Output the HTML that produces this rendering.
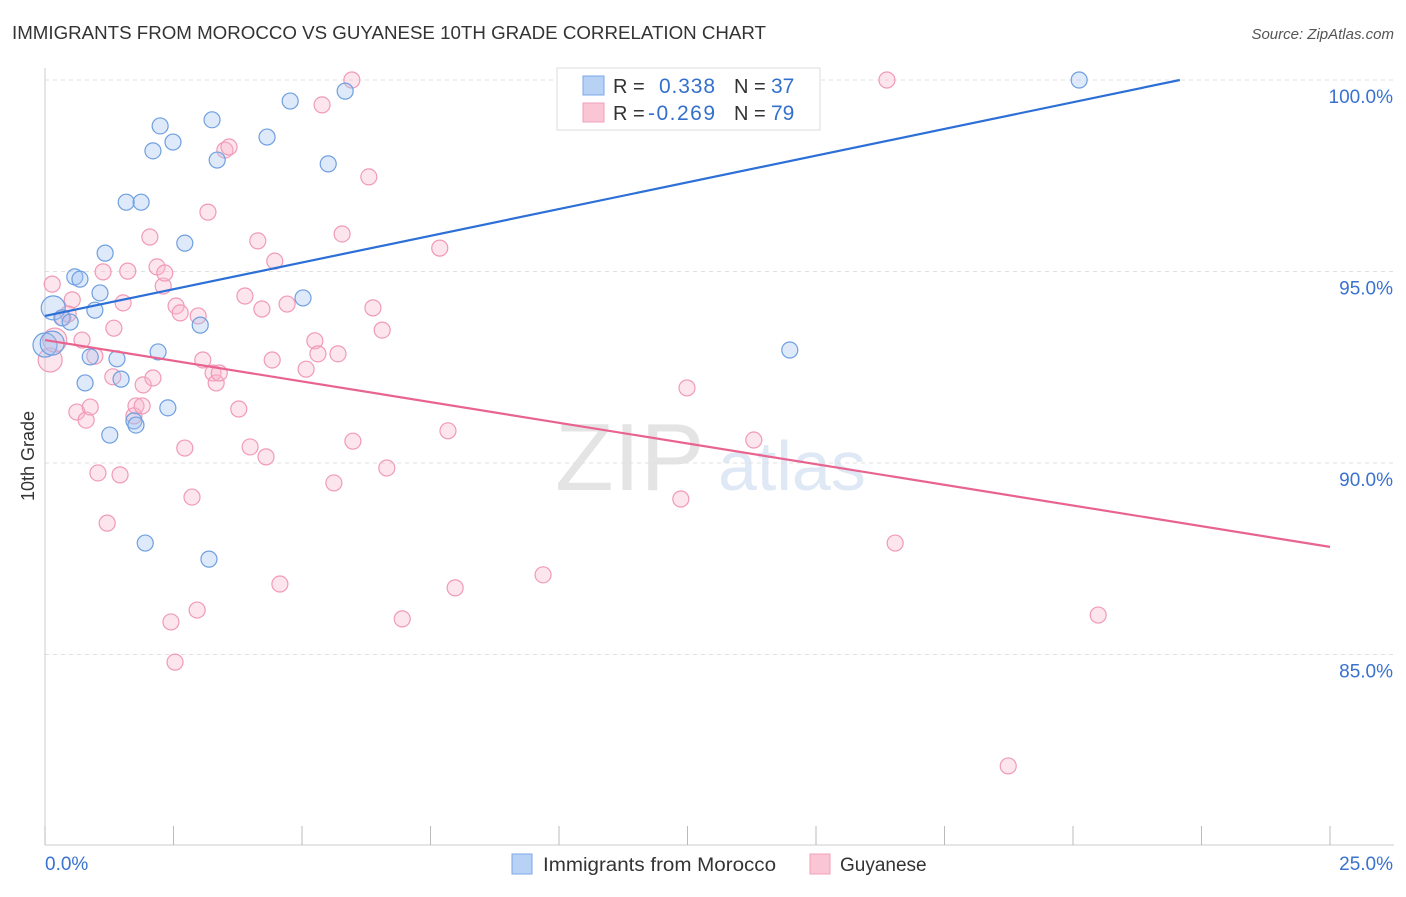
<!DOCTYPE html>
<html><head><meta charset="utf-8"><style>
body{margin:0;background:#fff;font-family:"Liberation Sans",sans-serif;}
svg text{font-family:"Liberation Sans",sans-serif;}
</style></head><body>
<svg id="chart" width="1406" height="892" xmlns="http://www.w3.org/2000/svg">
<text x="12" y="39" font-size="18" fill="#333" textLength="754" lengthAdjust="spacingAndGlyphs">IMMIGRANTS FROM MOROCCO VS GUYANESE 10TH GRADE CORRELATION CHART</text>
<text x="1394" y="39" font-size="15" fill="#555" font-style="italic" text-anchor="end">Source: ZipAtlas.com</text>
<text x="555" y="490" font-size="96" fill="#e4e4e4" font-family="Liberation Serif">ZIP</text>
<text x="718" y="490" font-size="70" fill="#dfe8f5">atlas</text>
<g id="grid"></g><g id="axes"></g><g id="marks"></g>
<text x="34" y="456" font-size="18" fill="#333" transform="rotate(-90 34 456)" text-anchor="middle">10th Grade</text>
<g>
<rect x="557" y="68" width="263" height="62" fill="#fff" stroke="#ddd"/>
<rect x="583" y="76" width="21" height="19" fill="#b8d2f5" stroke="#7aa8e8"/>
<rect x="583" y="103" width="21" height="19" fill="#fac6d6" stroke="#f0a0b8"/>
<text x="613" y="93" font-size="20" fill="#333">R =</text><text x="659" y="93" font-size="21" fill="#3370cc" textLength="56">0.338</text>
<text x="734" y="93" font-size="20" fill="#333">N =</text><text x="771" y="93" font-size="21" fill="#3370cc">37</text>
<text x="613" y="120" font-size="20" fill="#333">R =</text><text x="648" y="120" font-size="21" fill="#3370cc" textLength="67">-0.269</text>
<text x="734" y="120" font-size="20" fill="#333">N =</text><text x="771" y="120" font-size="21" fill="#3370cc">79</text>
</g>
<g>
<rect x="512" y="854" width="20" height="20" fill="#b8d2f5" stroke="#7aa8e8"/>
<text x="543" y="871" font-size="19" fill="#333" textLength="233" lengthAdjust="spacingAndGlyphs">Immigrants from Morocco</text>
<rect x="810" y="854" width="20" height="20" fill="#fac6d6" stroke="#f0a0b8"/>
<text x="840" y="871" font-size="19" fill="#333">Guyanese</text>
</g>
</svg>
<script>
const xTicks=[0,2.5,5,7.5,10,12.5,15,17.5,20,22.5,25];
const yTicks=[100,95,90,85];
const yTickLabels=["100.0%","95.0%","90.0%","85.0%"];
const xEndLabels=["0.0%","25.0%"];
const blueX=[0.16,0.33,0.49,0.58,0.68,0.97,1.07,1.17,0.88,0.78,1.26,1.40,1.48,1.58,1.87,1.73,1.77,2.10,2.24,2.49,2.20,2.39,1.95,2.72,3.02,3.25,3.35,3.19,4.32,4.77,5.02,5.51,5.84,14.49,20.12,0,0.14];
const blueY=[94.05,93.79,93.68,94.86,94.80,93.99,94.44,95.48,92.77,92.09,90.73,92.72,92.19,96.81,96.81,91.10,90.99,98.15,98.80,98.38,92.90,91.44,87.91,95.74,93.60,98.96,97.91,87.49,98.51,99.45,94.31,97.81,99.71,92.95,100.0,93.08,93.13];
const pinkX=[0.10,0.14,0.19,0.35,0.53,0.45,0.62,0.72,0.80,0.88,0.97,1.03,1.13,1.21,1.34,1.32,1.46,1.52,1.61,1.73,1.77,1.89,1.91,2.04,2.10,2.18,2.30,2.33,2.55,2.63,2.72,2.86,2.45,2.53,2.96,2.98,3.07,3.17,3.27,3.33,3.39,3.50,3.58,3.77,3.89,3.99,4.14,4.22,4.30,4.42,4.47,4.57,4.71,5.08,5.25,5.31,5.39,5.62,5.70,5.78,5.97,5.99,6.30,6.38,6.56,6.65,6.95,7.68,7.84,7.98,9.69,12.37,12.49,13.79,16.38,16.54,18.74,20.49];
const pinkY=[92.69,94.67,93.21,93.79,94.26,93.89,91.33,93.21,91.12,91.46,92.79,89.74,94.99,88.43,93.52,92.25,89.69,94.18,95.01,91.23,91.49,91.49,92.04,95.90,92.22,95.12,94.62,94.96,94.10,93.92,90.39,89.11,85.85,84.80,86.16,93.84,92.69,96.55,92.35,92.09,92.35,98.17,98.25,91.41,94.36,90.42,95.80,94.02,90.16,92.69,95.27,86.84,94.15,92.45,93.19,92.85,99.35,89.48,92.85,95.98,100.0,90.57,97.47,94.05,93.47,89.87,85.93,95.61,90.84,86.74,87.08,89.06,91.96,90.60,100.0,87.91,82.09,86.03];
const blueTrend=[93.84,0.279];
const pinkTrend=[93.21,-0.216];
const NS="http://www.w3.org/2000/svg";
function sx(v){return 45+v*51.4;}
function sy(v){return 80+(100-v)*38.3;}
function mk(t,a,p){const e=document.createElementNS(NS,t);for(const k in a)e.setAttribute(k,a[k]);p.appendChild(e);return e;}
const grid=document.getElementById('grid'),axes=document.getElementById('axes'),marks=document.getElementById('marks');
yTicks.forEach((v,i)=>{
  const l=mk('line',{x1:45,x2:1394,y1:sy(v),y2:sy(v),stroke:'#e0e0e0','stroke-dasharray':'4,4'},grid);
  
  
  const t=mk('text',{x:1393,y:sy(v)+23,'font-size':19,fill:'#3a72d0','text-anchor':'end'},axes);
  t.textContent=yTickLabels[i];
  
  
});
const ax=mk('line',{x1:45,x2:1394,y1:845,y2:845,stroke:'#ccc'},axes);


const ay=mk('line',{x1:45,x2:45,y1:68,y2:845,stroke:'#ccc'},axes);


xTicks.forEach(v=>{
  const t=mk('line',{x1:sx(v),x2:sx(v),y1:826,y2:845,stroke:'#bbb'},axes);
  
  
});
const xl0=mk('text',{x:45,y:870,'font-size':19,fill:'#3a72d0'},axes);xl0.textContent=xEndLabels[0];


const xl1=mk('text',{x:1393,y:870,'font-size':19,fill:'#3a72d0','text-anchor':'end'},axes);xl1.textContent=xEndLabels[1];


function dots(X,Y,fill,stroke,name){
  X.forEach((x,i)=>{
    const big=(x<0.2&&(Math.abs(Y[i]-93)<0.5||Math.abs(Y[i]-94.05)<0.1||Math.abs(Y[i]-92.69)<0.1));
    const c=mk('circle',{cx:sx(x),cy:sy(Y[i]),r:big?12:8,fill:fill,stroke:stroke,'stroke-width':1.2},marks);
    
    
  });
}
dots(pinkX,pinkY,'rgba(248,180,204,0.35)','#f09ab6','guyanese-point');
dots(blueX,blueY,'rgba(160,195,240,0.35)','#6f9fe0','morocco-point');
const bEnd=(100-blueTrend[0])/blueTrend[1];
const bl=mk('line',{x1:sx(0),y1:sy(blueTrend[0]),x2:sx(bEnd),y2:sy(100),stroke:'#2c6fd6','stroke-width':2.2},marks);


const pl=mk('line',{x1:sx(0),y1:sy(pinkTrend[0]),x2:sx(25),y2:sy(pinkTrend[0]+pinkTrend[1]*25),stroke:'#e8648f','stroke-width':2.2},marks);


</script>
</body></html>
